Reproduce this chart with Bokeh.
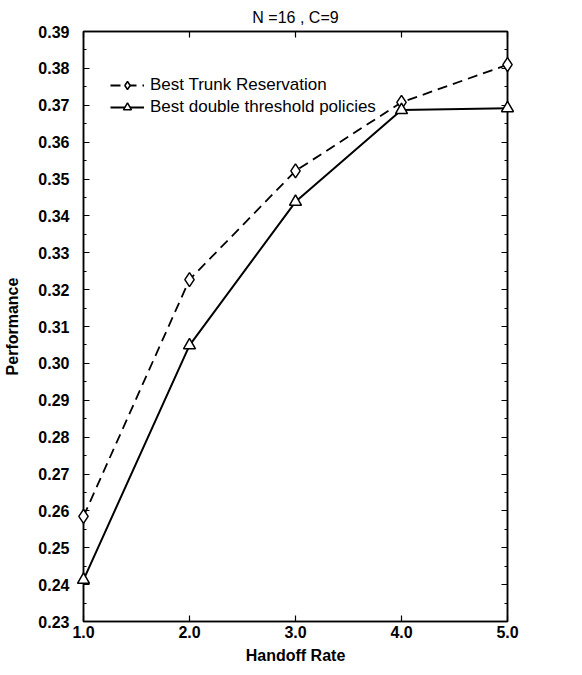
from bokeh.plotting import figure
from bokeh.models import LinearAxis, FixedTicker, NumeralTickFormatter, Legend, LegendItem, Range1d
from bokeh.embed import file_html
from bokeh.resources import INLINE

# ---- data ----
handoff_rate = [1.0, 2.0, 3.0, 4.0, 5.0]
trunk_reservation = [0.2585, 0.3227, 0.3522, 0.3708, 0.3810]
double_threshold = [0.2413, 0.3049, 0.3438, 0.3687, 0.3692]
x_ticks = [1.0, 2.0, 3.0, 4.0, 5.0]
y_ticks = [0.23, 0.24, 0.25, 0.26, 0.27, 0.28, 0.29, 0.30, 0.31,
           0.32, 0.33, 0.34, 0.35, 0.36, 0.37, 0.38, 0.39]
series_labels = ["Best Trunk Reservation", "Best double threshold policies"]
title_text = "N =16 , C=9"
x_label = "Handoff Rate"
y_label = "Performance"

FONT = "Liberation Sans"
FRAME_W, FRAME_H = 424, 590

p = figure(frame_width=FRAME_W, frame_height=FRAME_H,
           min_border_left=83, min_border_right=58, min_border_top=13,
           x_range=Range1d(x_ticks[0], x_ticks[-1]),
           y_range=Range1d(y_ticks[0], y_ticks[-1]),
           output_backend="svg", toolbar_location=None,
           x_axis_label=x_label, y_axis_label=y_label)

p.title.text = title_text
p.title.align = "center"
p.title.text_font = FONT
p.title.text_font_style = "normal"
p.title.text_font_size = "16px"
p.title.text_color = "black"
p.title.standoff = 12

p.xgrid.grid_line_color = None
p.ygrid.grid_line_color = None
p.outline_line_color = "black"
p.outline_line_width = 1.5
p.background_fill_color = "white"
p.border_fill_color = "white"

y_minor = [(a + b) / 2 for a, b in zip(y_ticks[:-1], y_ticks[1:])]
yt = FixedTicker(ticks=y_ticks, minor_ticks=y_minor)
xt = FixedTicker(ticks=x_ticks)


def style_axis(ax, labels=True):
    ax.axis_line_color = "black"
    ax.axis_line_width = 1.5
    ax.major_tick_in = 6
    ax.major_tick_out = 0
    ax.minor_tick_in = 3
    ax.minor_tick_out = 0
    ax.major_tick_line_color = "black"
    ax.major_tick_line_width = 1.2
    ax.minor_tick_line_color = "black"
    ax.major_label_text_font = FONT
    ax.major_label_text_font_style = "bold"
    ax.major_label_text_font_size = "16px"
    ax.major_label_text_color = "black"
    ax.axis_label_text_font = FONT
    ax.axis_label_text_font_style = "bold"
    ax.axis_label_text_font_size = "16px"
    ax.axis_label_text_color = "black"
    if not labels:
        ax.major_label_overrides = {t: "" for t in ax.ticker.ticks}
        ax.major_label_standoff = 0


# bottom axis
xa = p.xaxis[0]
xa.ticker = xt
xa.formatter = NumeralTickFormatter(format="0.0")
style_axis(xa)
xa.minor_tick_line_color = None
xa.major_label_standoff = 4
xa.axis_label_standoff = 6

# left axis
ya = p.yaxis[0]
ya.ticker = yt
ya.formatter = NumeralTickFormatter(format="0.00")
style_axis(ya)
ya.major_label_standoff = 14
ya.axis_label_standoff = 14

# top and right mirror axes (ticks only)
top = LinearAxis(ticker=xt)
style_axis(top, labels=False)
top.minor_tick_line_color = None
p.add_layout(top, "above")
right = LinearAxis(ticker=yt)
style_axis(right, labels=False)
p.add_layout(right, "right")

# series
l1 = p.line(handoff_rate, trunk_reservation, line_color="black", line_width=1.8,
            line_dash="10 6", level="overlay")
s1 = p.scatter(handoff_rate, trunk_reservation, marker="diamond", size=14,
               fill_color="white", line_color="black", line_width=1.5, level="overlay")
l2 = p.line(handoff_rate, double_threshold, line_color="black", line_width=2.0, level="overlay")
s2 = p.scatter(handoff_rate, double_threshold, marker="triangle", size=12,
               fill_color="white", line_color="black", line_width=1.5, level="overlay")

legend = Legend(items=[LegendItem(label=series_labels[0], renderers=[l1, s1]),
                       LegendItem(label=series_labels[1], renderers=[l2, s2])],
                location=(27, FRAME_H - 44 - 42),
                border_line_color=None, background_fill_alpha=0,
                glyph_width=34, glyph_height=20, label_height=20,
                label_standoff=6, padding=0, spacing=2, margin=0,
                label_text_font=FONT, label_text_font_size="17px",
                label_text_color="black")
p.add_layout(legend)

open("out.html", "w").write(file_html(p, INLINE))
